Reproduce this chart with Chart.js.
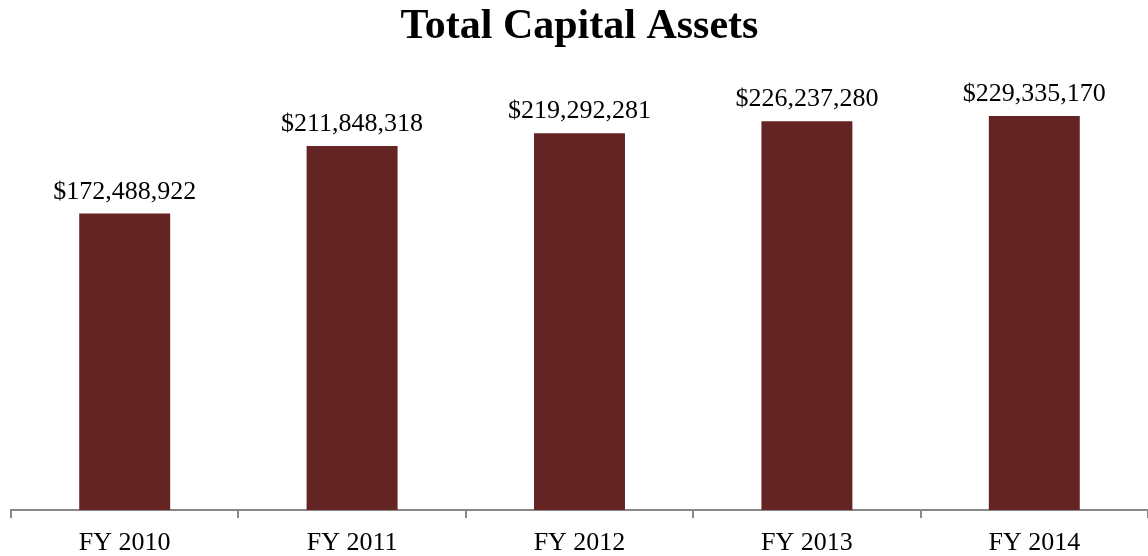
<!DOCTYPE html>
<html>
<head>
<meta charset="utf-8">
<script src="https://cdn.jsdelivr.net/npm/chart.js@4/dist/chart.umd.min.js"></script>
<style>
  body { margin: 0; background: #fff; overflow: hidden; }
  #box { width: 1148px; height: 556px; }
</style>
</head>
<body>
<div id="box"><canvas id="assets-chart"></canvas></div>
<script>
const years = ['FY 2010', 'FY 2011', 'FY 2012', 'FY 2013', 'FY 2014'];
const totalAssets = [172488922, 211848318, 219292281, 226237280, 229335170];

const serif = "'Liberation Serif', 'Times New Roman', serif";

// values over the bars
const barLabels = {
  id: 'barLabels',
  afterDatasetsDraw(chart) {
    const ctx = chart.ctx;
    ctx.save();
    ctx.font = '26px ' + serif;
    ctx.fillStyle = '#000';
    ctx.textAlign = 'center';
    ctx.textBaseline = 'alphabetic';
    chart.getDatasetMeta(0).data.forEach((bar, i) => {
      ctx.fillText('$' + totalAssets[i].toLocaleString('en-US'), bar.x, bar.y - 15);
    });
    ctx.restore();
  }
};

new Chart(document.getElementById('assets-chart'), {
  type: 'bar',
  data: {
    labels: years,
    datasets: [{
      data: totalAssets,
      backgroundColor: '#632423',
      categoryPercentage: 1,
      barPercentage: 0.4
    }]
  },
  options: {
    responsive: true,
    maintainAspectRatio: false,
    animation: false,
    layout: { padding: { left: 11, right: 0, top: 2, bottom: -12 } },
    plugins: {
      legend: { display: false },
      tooltip: { enabled: false },
      title: {
        display: true,
        text: 'Total Capital Assets',
        color: '#000',
        font: { family: serif, size: 42, weight: 'bold' },
        padding: { top: 0, bottom: 28 }
      }
    },
    scales: {
      x: {
        grid: { offset: true, drawOnChartArea: false, tickLength: 8, color: '#888', lineWidth: 2 },
        border: { color: '#888', width: 2 },
        ticks: { color: '#000', font: { family: serif, size: 26, lineHeight: 1 }, padding: 12 }
      },
      y: {
        display: false,
        min: 0,
        max: 250000000
      }
    }
  },
  plugins: [barLabels]
});
</script>
</body>
</html>
